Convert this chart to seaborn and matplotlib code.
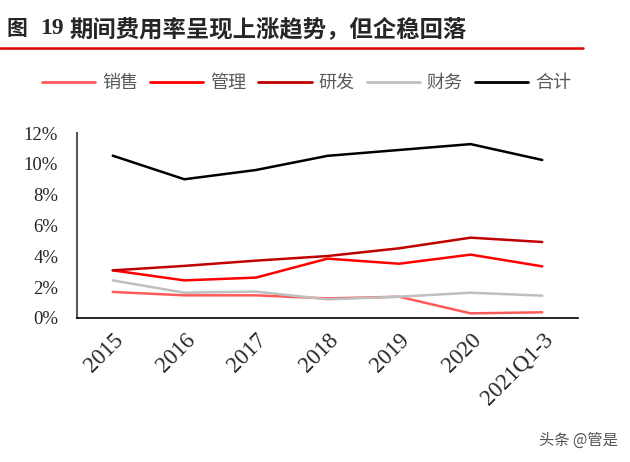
import pandas as pd
import seaborn as sns
import matplotlib.pyplot as plt
from matplotlib.lines import Line2D
from matplotlib.ticker import FuncFormatter

periods = ["2015", "2016", "2017", "2018", "2019", "2020", "2021Q1-3"]
xiaoshou = [1.69, 1.47, 1.47, 1.27, 1.38, 0.30, 0.37]
guanli = [3.09, 2.44, 2.62, 3.85, 3.52, 4.11, 3.35]
yanfa = [3.09, 3.38, 3.72, 4.02, 4.52, 5.21, 4.93]
caiwu = [2.44, 1.64, 1.71, 1.21, 1.38, 1.64, 1.45]
heji = [10.53, 9.00, 9.60, 10.52, 10.90, 11.28, 10.25]

names = ["销售", "管理", "研发", "财务", "合计"]
colors = ["#FF5A5A", "#FF0000", "#C00000", "#BFBFBF", "#000000"]

df = pd.DataFrame({"期间": periods, "销售": xiaoshou, "管理": guanli,
                   "研发": yanfa, "财务": caiwu, "合计": heji})
long = df.melt(id_vars="期间", var_name="项目", value_name="费用率")

sns.set_style("white")
plt.rcParams['font.family'] = ['Noto Sans CJK SC', 'DejaVu Sans']

fig = plt.figure(figsize=(6.3, 4.62), dpi=100)
ax = fig.add_axes([0.1222, 0.3117, 0.7953, 0.4004])

sns.lineplot(data=long, x="期间", y="费用率", hue="项目", hue_order=names,
             palette=colors, linewidth=1.8, legend=False, ax=ax, sort=False)

ax.set_xlim(-0.5, 6.5)
ax.set_ylim(0, 12)
ax.set_yticks(range(0, 13, 2))
ax.yaxis.set_major_formatter(FuncFormatter(lambda v, p: f"{v:.0f}%"))
ax.set_xlabel("")
ax.set_ylabel("")
for s in ["top", "right"]:
    ax.spines[s].set_visible(False)
ax.spines["left"].set_color("#595959")
ax.spines["left"].set_linewidth(1.5)
ax.spines["bottom"].set_color("#000000")
ax.spines["bottom"].set_linewidth(1.2)
ax.tick_params(axis="y", direction="in", length=5, width=1.2, color="#404040",
               labelsize=13.5, pad=13.5)
ax.tick_params(axis="x", length=0, labelsize=16.5, pad=8)
for lab in ax.get_yticklabels():
    lab.set_fontfamily("Liberation Serif")
for lab in ax.get_xticklabels():
    lab.set_fontfamily("Liberation Serif")
    lab.set_rotation(45)
    lab.set_ha("right")
    lab.set_rotation_mode("anchor")

# title and red rule
fig.text(0.011, 0.938, "图", fontsize=15, fontweight="bold", va="center",
         family=['Noto Sans CJK SC'])
fig.text(0.063, 0.938, "19", fontsize=17, fontweight="bold", va="center",
         family=['Liberation Serif'])
fig.text(0.111, 0.938, "期间费用率呈现上涨趋势，但企稳回落", fontsize=16.8,
         fontweight="bold", va="center", family=['Noto Sans CJK SC'])
fig.add_artist(Line2D([0, 0.925], [0.896, 0.896], color="#E00000", lw=1.8))

handles = [Line2D([], [], color=c, lw=2) for c in colors]
fig.legend(handles, names, loc="center", bbox_to_anchor=(0.4865, 0.82),
           ncol=5, frameon=False, fontsize=13, handlelength=2.94,
           handletextpad=0.39, columnspacing=0.67, labelcolor="#595959")

fig.text(0.98, 0.047, "头条 @管是", fontsize=11, color="#555555", ha="right",
         va="center")

fig.savefig("out.png", dpi=100)
